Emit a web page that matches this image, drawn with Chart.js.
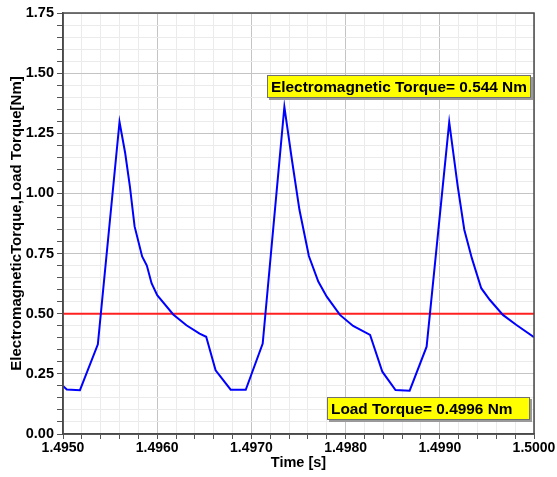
<!DOCTYPE html>
<html>
<head>
<meta charset="utf-8">
<script src="https://cdn.jsdelivr.net/npm/chart.js@4.4.0/dist/chart.umd.min.js"></script>
<style>
  html, body { margin: 0; padding: 0; background: #fff; }
  canvas { display: block; }
</style>
</head>
<body>
<canvas id="chart" width="557" height="477"></canvas>
<script>
// time samples [s] and electromagnetic torque [Nm]
const times = [
  1.49500, 1.49504, 1.49518, 1.49537, 1.49560, 1.49566, 1.49571, 1.49576,
  1.49584, 1.49589, 1.49594, 1.49600, 1.49617, 1.49631, 1.49645, 1.49652,
  1.49662, 1.49678, 1.49694, 1.49712, 1.49735, 1.49743, 1.49751, 1.49761,
  1.49771, 1.49780, 1.49794, 1.49808, 1.49826, 1.49839, 1.49853, 1.49868,
  1.49886, 1.49910, 1.49919, 1.49926, 1.49934, 1.49944, 1.49953, 1.49967,
  1.49981, 1.50000
];
const emTorque = [
  0.200, 0.185, 0.182, 0.373, 1.297, 1.168, 1.029, 0.863,
  0.738, 0.700, 0.627, 0.577, 0.497, 0.452, 0.417, 0.404,
  0.265, 0.184, 0.184, 0.376, 1.360, 1.140, 0.932, 0.740,
  0.634, 0.571, 0.495, 0.449, 0.412, 0.259, 0.183, 0.180,
  0.363, 1.296, 1.030, 0.849, 0.731, 0.606, 0.558, 0.495,
  0.454, 0.402
];
const loadTorque = 0.4996;
const emLabel = 'Electromagnetic Torque= 0.544 Nm';
const loadLabel = 'Load Torque= 0.4996 Nm';

const xMin = 1.495, xMax = 1.5;
const yMin = 0, yMax = 1.75;

const FONT = "'Liberation Sans', Arial, sans-serif";

function isMultiple(v, step) {
  const r = v / step;
  return Math.abs(r - Math.round(r)) < 1e-6;
}

// frame around the plot + the two yellow value labels
const decorations = {
  id: 'decorations',
  afterDraw(chart) {
    const ctx = chart.ctx;
    const a = chart.chartArea;
    ctx.save();
    ctx.strokeStyle = '#4a4a4a';
    ctx.lineWidth = 1.5;
    ctx.strokeRect(a.left, a.top, a.right - a.left, a.bottom - a.top);

    const drawBox = (text, left, top, w, h) => {
      ctx.fillStyle = '#9a9a9a';
      ctx.fillRect(left + 2, top + 2, w, h);
      ctx.fillStyle = '#ffff00';
      ctx.fillRect(left, top, w, h);
      ctx.strokeStyle = '#707070';
      ctx.lineWidth = 1;
      ctx.strokeRect(left + 0.5, top + 0.5, w - 1, h - 1);
      ctx.fillStyle = '#000';
      ctx.font = 'bold 15.4px ' + FONT;
      ctx.textBaseline = 'middle';
      ctx.textAlign = 'left';
      ctx.fillText(text, left + 4, top + h / 2 + 1);
    };
    drawBox(emLabel, a.right - 267, a.top + 62, 264, 23);
    drawBox(loadLabel, a.right - 207, a.bottom - 37, 203, 23);
    ctx.restore();
  }
};

new Chart(document.getElementById('chart'), {
  type: 'line',
  data: {
    datasets: [
      {
        label: 'Electromagnetic Torque',
        data: times.map((t, i) => ({ x: t, y: emTorque[i] })),
        borderColor: '#0000ff',
        borderWidth: 2,
        pointRadius: 0,
        tension: 0
      },
      {
        label: 'Load Torque',
        data: [{ x: xMin, y: loadTorque }, { x: xMax, y: loadTorque }],
        borderColor: '#ff2020',
        borderWidth: 2,
        pointRadius: 0
      }
    ]
  },
  options: {
    responsive: false,
    animation: false,
    layout: { padding: { left: 0, right: 23, top: 13, bottom: 0 } },
    plugins: { legend: { display: false }, tooltip: { enabled: false } },
    scales: {
      x: {
        type: 'linear',
        min: xMin,
        max: xMax,
        afterFit: (s) => { s.height = 43; },
        border: { display: true, color: '#4a4a4a', width: 1.5 },
        grid: {
          color: (c) => isMultiple(c.tick.value, 0.001) ? '#c4c4c4' : '#ebebeb',
          lineWidth: 1,
          tickLength: 5,
          tickColor: '#555'
        },
        ticks: {
          stepSize: 0.0002,
          autoSkip: false,
          maxRotation: 0,
          padding: 1,
          color: '#000',
          font: { family: FONT, size: 14, weight: 'bold' },
          callback: (v) => isMultiple(v, 0.001) ? Number(v).toFixed(4) : ''
        },
        title: {
          display: true,
          text: 'Time [s]',
          color: '#000',
          font: { family: FONT, size: 14.5, weight: 'bold' },
          padding: { top: 0, bottom: 5 }
        }
      },
      y: {
        min: yMin,
        max: yMax,
        afterFit: (s) => { s.width = 63; },
        border: { display: true, color: '#4a4a4a', width: 1.5 },
        grid: {
          color: (c) => isMultiple(c.tick.value, 0.25) ? '#c4c4c4' : '#ebebeb',
          lineWidth: 1,
          tickLength: 6,
          tickColor: '#555'
        },
        ticks: {
          stepSize: 0.05,
          autoSkip: false,
          padding: 3,
          color: '#000',
          font: { family: FONT, size: 14.5, weight: 'bold' },
          callback: (v) => isMultiple(v, 0.25) ? Number(v).toFixed(2) : ''
        },
        title: {
          display: true,
          text: 'ElectromagneticTorque,Load Torque[Nm]',
          color: '#000',
          font: { family: FONT, size: 15, weight: 'bold' },
          padding: { top: 8, bottom: 0 }
        }
      }
    }
  },
  plugins: [decorations]
});
</script>
</body>
</html>
